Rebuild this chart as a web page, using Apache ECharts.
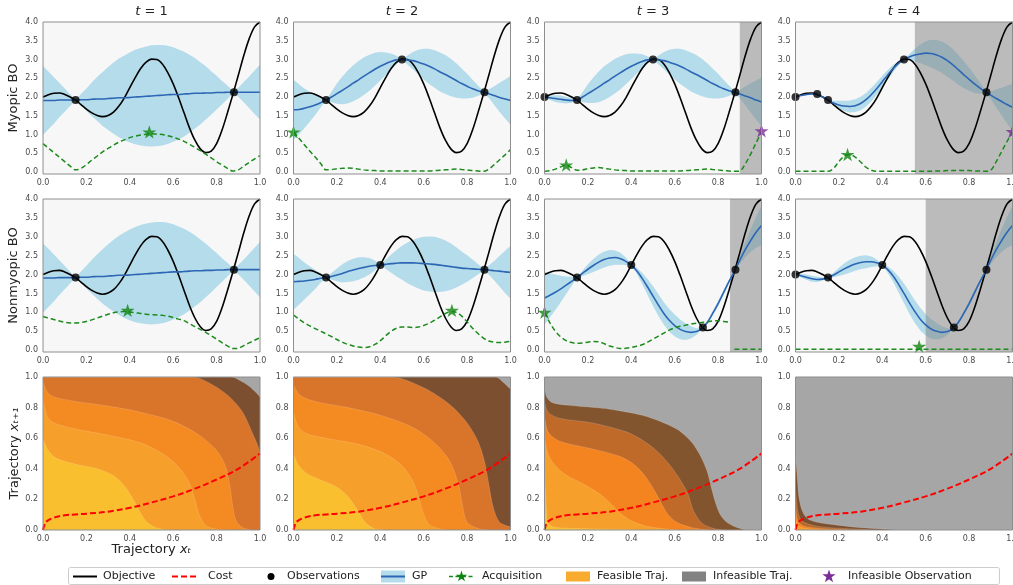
<!DOCTYPE html>
<html>
<head>
<meta charset="utf-8">
<script src="https://cdn.jsdelivr.net/npm/echarts@6.0.0/dist/echarts.min.js"></script>
<style>
html,body{margin:0;padding:0;background:#ffffff;}
#chart{width:1013px;height:585px;}
</style>
</head>
<body>
<div id="chart"></div>
<script>
// ================= DATA =================
const columnTitles = ['1', '2', '3', '4'];
const rowLabels = ['Myopic BO', 'Nonmyopic BO'];
const legendNames = ['Objective', 'Cost', 'Observations', 'GP', 'Acquisition', 'Feasible Traj.', 'Infeasible Traj.', 'Infeasible Observation'];

const xGrid = [0,0.025,0.05,0.075,0.1,0.125,0.15,0.175,0.2,0.225,0.25,0.275,0.3,0.325,0.35,0.375,0.4,0.425,0.45,0.475,0.5,0.525,0.55,0.575,0.6,0.625,0.65,0.675,0.7,0.725,0.75,0.775,0.8,0.825,0.85,0.875,0.9,0.925,0.95,0.975,1];

const objective = [2.00,2.06,2.10,2.11,2.07,2.00,1.92,1.80,1.68,1.58,1.51,1.48,1.51,1.60,1.76,1.98,2.25,2.52,2.76,2.93,3.01,3.00,2.88,2.65,2.35,1.98,1.58,1.18,0.85,0.62,0.52,0.56,0.76,1.12,1.58,2.07,2.58,3.10,3.55,3.87,4.00];

// Myopic row
const meanMyopic1 = [1.91,1.91,1.91,1.92,1.92,1.92,1.92,1.93,1.93,1.94,1.95,1.95,1.96,1.97,1.98,1.98,1.99,2.00,2.01,2.02,2.03,2.04,2.05,2.06,2.07,2.07,2.08,2.09,2.10,2.10,2.11,2.11,2.12,2.12,2.13,2.13,2.13,2.13,2.13,2.13,2.13];
const bandMyopic1 = [0.92,0.77,0.62,0.46,0.31,0.155,0.00,0.15,0.30,0.45,0.59,0.72,0.84,0.95,1.05,1.13,1.20,1.26,1.30,1.33,1.35,1.35,1.34,1.31,1.26,1.20,1.13,1.04,0.94,0.83,0.71,0.58,0.45,0.31,0.18,0.03,0.12,0.27,0.42,0.58,0.73];
const acqMyopic1 = [0.76,0.64,0.52,0.40,0.28,0.16,0.06,0.10,0.20,0.32,0.43,0.54,0.63,0.72,0.80,0.86,0.92,0.96,0.99,1.01,1.02,1.01,1.00,0.97,0.93,0.88,0.82,0.74,0.66,0.57,0.48,0.38,0.28,0.19,0.10,0.03,0.06,0.16,0.26,0.35,0.44];

const meanMyopic2 = [1.66,1.67,1.70,1.74,1.79,1.85,1.92,2.00,2.09,2.18,2.27,2.37,2.46,2.56,2.65,2.74,2.82,2.89,2.95,2.99,3.00,2.99,2.97,2.93,2.88,2.82,2.75,2.67,2.60,2.52,2.44,2.36,2.29,2.22,2.17,2.13,2.09,2.04,1.99,1.95,1.91];
const bandMyopic2 = [0.80,0.67,0.53,0.40,0.27,0.13,0.00,0.14,0.27,0.37,0.44,0.48,0.50,0.50,0.48,0.44,0.38,0.30,0.21,0.11,0.00,0.12,0.23,0.33,0.41,0.47,0.50,0.52,0.52,0.50,0.46,0.40,0.33,0.24,0.14,0.03,0.11,0.25,0.39,0.52,0.65];
const acqMyopic2 = [1.07,0.90,0.73,0.56,0.40,0.23,0.06,0.07,0.09,0.10,0.11,0.10,0.08,0.06,0.05,0.04,0.03,0.03,0.03,0.03,0.03,0.03,0.03,0.03,0.03,0.03,0.04,0.05,0.06,0.07,0.08,0.07,0.06,0.04,0.03,0.02,0.08,0.20,0.33,0.46,0.60];

const meanMyopic3 = [2.00,1.98,1.96,1.94,1.92,1.91,1.92,2.00,2.09,2.18,2.27,2.37,2.46,2.56,2.65,2.74,2.82,2.89,2.95,2.99,3.00,2.99,2.97,2.93,2.88,2.82,2.75,2.67,2.60,2.52,2.44,2.36,2.29,2.22,2.17,2.13,2.08,2.03,1.98,1.92,1.87];
const bandMyopic3 = [0.00,0.06,0.09,0.10,0.09,0.06,0.00,0.13,0.25,0.34,0.41,0.45,0.46,0.46,0.44,0.40,0.34,0.27,0.19,0.10,0.00,0.12,0.23,0.33,0.41,0.47,0.50,0.52,0.52,0.50,0.46,0.40,0.33,0.24,0.14,0.03,0.11,0.25,0.39,0.52,0.65];
const acqMyopic3 = [0.02,0.04,0.08,0.14,0.18,0.12,0.05,0.06,0.09,0.11,0.12,0.10,0.08,0.06,0.05,0.04,0.03,0.03,0.03,0.03,0.03,0.03,0.03,0.03,0.03,0.03,0.04,0.05,0.06,0.07,0.08,0.07,0.06,0.04,0.03,0.02,0.03,0.22,0.48,0.78,1.07];

const meanMyopic4 = [2.00,2.04,2.07,2.08,2.07,2.00,1.92,1.84,1.79,1.76,1.75,1.77,1.83,1.93,2.07,2.23,2.41,2.59,2.76,2.90,3.00,3.07,3.12,3.15,3.17,3.16,3.12,3.06,2.97,2.86,2.73,2.60,2.47,2.35,2.24,2.14,2.05,1.96,1.88,1.80,1.73];
const bandMyopic4 = [0.00,0.01,0.02,0.02,0.00,0.01,0.00,0.06,0.11,0.14,0.16,0.17,0.18,0.18,0.18,0.17,0.16,0.13,0.10,0.05,0.00,0.08,0.17,0.25,0.32,0.37,0.40,0.42,0.43,0.42,0.40,0.36,0.31,0.24,0.15,0.03,0.10,0.24,0.37,0.50,0.63];
const acqMyopic4 = [0.02,0.02,0.02,0.02,0.02,0.02,0.02,0.10,0.28,0.43,0.47,0.40,0.27,0.13,0.05,0.02,0.02,0.02,0.02,0.02,0.02,0.02,0.02,0.02,0.02,0.02,0.03,0.03,0.04,0.04,0.05,0.04,0.04,0.03,0.03,0.02,0.05,0.28,0.55,0.82,1.07];

// Nonmyopic row
const meanNonmyopic1 = meanMyopic1;
const bandNonmyopic1 = bandMyopic1;
const acqNonmyopic1 = [0.89,0.85,0.81,0.77,0.74,0.72,0.72,0.73,0.76,0.80,0.85,0.90,0.95,0.99,1.01,1.02,1.01,0.99,0.97,0.95,0.94,0.93,0.92,0.90,0.86,0.82,0.78,0.70,0.62,0.55,0.47,0.38,0.29,0.20,0.11,0.04,0.05,0.12,0.19,0.26,0.33];

const meanNonmyopic2 = [1.81,1.82,1.83,1.85,1.87,1.90,1.92,1.95,1.99,2.03,2.08,2.12,2.16,2.19,2.22,2.24,2.25,2.27,2.29,2.30,2.31,2.31,2.31,2.30,2.29,2.28,2.27,2.25,2.23,2.21,2.19,2.17,2.16,2.15,2.14,2.13,2.12,2.10,2.09,2.07,2.06];
const bandNonmyopic2 = [0.74,0.62,0.49,0.37,0.25,0.12,0.00,0.09,0.17,0.24,0.28,0.30,0.30,0.27,0.22,0.13,0.00,0.12,0.24,0.35,0.45,0.54,0.61,0.67,0.71,0.73,0.73,0.71,0.67,0.61,0.53,0.44,0.35,0.25,0.14,0.03,0.12,0.26,0.41,0.56,0.70];
const acqNonmyopic2 = [0.93,0.82,0.72,0.64,0.57,0.50,0.43,0.36,0.28,0.21,0.15,0.11,0.08,0.07,0.09,0.15,0.25,0.38,0.50,0.58,0.61,0.61,0.60,0.61,0.65,0.71,0.79,0.88,0.97,1.02,1.00,0.90,0.75,0.58,0.44,0.32,0.24,0.21,0.20,0.21,0.23];

const meanNonmyopic3 = [1.38,1.45,1.53,1.62,1.72,1.82,1.92,2.03,2.14,2.24,2.33,2.40,2.44,2.45,2.42,2.35,2.25,2.10,1.90,1.67,1.43,1.19,0.97,0.79,0.65,0.55,0.49,0.47,0.49,0.57,0.73,0.97,1.23,1.52,1.81,2.08,2.38,2.66,2.90,3.12,3.30];
const bandNonmyopic3 = [0.70,0.58,0.47,0.35,0.23,0.12,0.00,0.07,0.13,0.17,0.20,0.21,0.21,0.19,0.16,0.10,0.00,0.08,0.15,0.21,0.26,0.29,0.30,0.30,0.29,0.26,0.22,0.16,0.09,0.01,0.04,0.06,0.07,0.07,0.05,0.01,0.10,0.20,0.30,0.41,0.52];
const acqNonmyopic3 = [1.00,0.72,0.50,0.35,0.25,0.20,0.18,0.19,0.21,0.23,0.22,0.17,0.11,0.07,0.04,0.05,0.07,0.10,0.14,0.21,0.29,0.37,0.45,0.53,0.59,0.63,0.66,0.69,0.71,0.73,0.75,0.77,0.78,0.76,0.74,null,null,null,null,null,null];
const acqNonmyopic3Infeasible = [null,null,null,null,null,null,null,null,null,null,null,null,null,null,null,null,null,null,null,null,null,null,null,null,null,null,null,null,null,null,null,null,null,null,null,0.02,0.02,0.02,0.02,0.02,0.02];

const meanNonmyopic4 = [2.00,1.97,1.93,1.89,1.87,1.88,1.92,1.99,2.07,2.15,2.22,2.28,2.32,2.34,2.34,2.31,2.25,2.13,1.96,1.74,1.50,1.25,1.02,0.82,0.67,0.56,0.50,0.47,0.49,0.57,0.73,0.97,1.23,1.52,1.81,2.08,2.38,2.66,2.90,3.12,3.30];
const bandNonmyopic4 = [0.00,0.05,0.07,0.08,0.07,0.04,0.00,0.06,0.11,0.15,0.17,0.18,0.18,0.17,0.14,0.09,0.00,0.08,0.15,0.21,0.26,0.29,0.30,0.30,0.28,0.26,0.22,0.16,0.09,0.01,0.04,0.06,0.07,0.07,0.05,0.01,0.10,0.20,0.30,0.41,0.52];
const acqNonmyopic4 = [0.02,0.02,0.02,0.02,0.02,0.02,0.02,0.02,0.02,0.02,0.02,0.02,0.02,0.02,0.02,0.02,0.02,0.02,0.02,0.02,0.02,0.02,0.02,0.02,0.02,0.02,0.02,0.02,0.02,0.02,0.02,0.02,0.02,0.02,0.02,0.02,0.02,0.02,0.02,0.02,0.02];

// Observations
const obsXMyopic1 = [0.15, 0.88];              const obsYMyopic1 = [1.92, 2.13];
const obsXMyopic2 = [0.15, 0.5, 0.88];         const obsYMyopic2 = [1.92, 3.0, 2.13];
const obsXMyopic3 = [0, 0.15, 0.5, 0.88];      const obsYMyopic3 = [2.0, 1.92, 3.0, 2.13];
const obsXMyopic4 = [0, 0.1, 0.15, 0.5, 0.88]; const obsYMyopic4 = [2.0, 2.08, 1.92, 3.0, 2.13];
const obsXNonmyopic1 = [0.15, 0.88];                const obsYNonmyopic1 = [1.92, 2.13];
const obsXNonmyopic2 = [0.15, 0.4, 0.88];           const obsYNonmyopic2 = [1.92, 2.25, 2.13];
const obsXNonmyopic3 = [0.15, 0.4, 0.73, 0.88];     const obsYNonmyopic3 = [1.92, 2.25, 0.6, 2.13];
const obsXNonmyopic4 = [0, 0.15, 0.4, 0.73, 0.88];  const obsYNonmyopic4 = [2.0, 1.92, 2.25, 0.6, 2.13];

// Next query (acquisition maximiser) and infeasible observations
const nextMyopic = [[0.49, 1.07], [0.0, 1.07], [0.1, 0.19], [0.24, 0.47]];
const nextNonmyopic = [[0.39, 1.05], [0.73, 1.05], [0.0, 1.0], [0.57, 0.1]];
const infeasibleObsMyopic = [null, null, [1.0, 1.1], [1.0, 1.08]];
// start of infeasible region (x)
const infeasibleStartMyopic = [null, null, 0.9, 0.55];
const infeasibleStartNonmyopic = [null, null, 0.855, 0.6];

// Cost curve
const costX = [0, 0.01, 0.02, 0.04, 0.07, 0.1, 0.15, 0.2, 0.3, 0.4, 0.5, 0.6, 0.7, 0.8, 0.9, 1.0];
const costY = [0, 0.045, 0.06, 0.075, 0.088, 0.096, 0.102, 0.107, 0.12, 0.145, 0.18, 0.22, 0.27, 0.33, 0.4, 0.5];

// Trajectory contours (outer -> inner); each region filled below its boundary
const trajT1Level0 = [[0,1],[0.87,1],[0.91,0.975],[0.95,0.94],[0.98,0.9],[1,0.87]];
const trajT1Level1 = [[0,1],[0.69,1],[0.78,0.95],[0.86,0.87],[0.92,0.77],[0.96,0.65],[0.99,0.55],[1,0.5]];
const trajT1Level2 = [[0,0.97],[0.02,0.9],[0.05,0.87],[0.15,0.84],[0.3,0.81],[0.45,0.77],[0.6,0.71],[0.72,0.62],[0.8,0.52],[0.84,0.42],[0.86,0.3],[0.875,0.15],[0.89,0.06],[0.92,0.015],[0.96,0]];
const trajT1Level3 = [[0,0.86],[0.02,0.74],[0.05,0.7],[0.15,0.66],[0.3,0.62],[0.45,0.57],[0.55,0.5],[0.62,0.42],[0.67,0.32],[0.7,0.2],[0.72,0.1],[0.75,0.03],[0.8,0.005],[0.85,0]];
const trajT1Level4 = [[0,0.6],[0.02,0.53],[0.06,0.47],[0.15,0.43],[0.25,0.4],[0.33,0.35],[0.38,0.28],[0.42,0.19],[0.45,0.11],[0.48,0.05],[0.52,0.015],[0.58,0]];

const trajT2Level0 = [[0,1],[0.93,1],[0.97,0.96],[1,0.92]];
const trajT2Level1 = [[0,1],[0.45,1],[0.6,0.93],[0.72,0.82],[0.8,0.7],[0.85,0.58],[0.88,0.45],[0.9,0.3],[0.92,0.15],[0.95,0.05],[1,0.02]];
const trajT2Level2 = [[0,0.95],[0.03,0.88],[0.1,0.84],[0.25,0.8],[0.4,0.75],[0.55,0.67],[0.65,0.57],[0.72,0.45],[0.76,0.3],[0.78,0.15],[0.8,0.05],[0.85,0.01],[0.9,0]];
const trajT2Level3 = [[0,0.78],[0.02,0.68],[0.06,0.63],[0.15,0.6],[0.3,0.56],[0.42,0.5],[0.5,0.42],[0.55,0.32],[0.58,0.2],[0.6,0.1],[0.63,0.03],[0.7,0]];
const trajT2Level4 = [[0,0.5],[0.02,0.43],[0.06,0.37],[0.12,0.33],[0.2,0.28],[0.25,0.22],[0.3,0.12],[0.33,0.05],[0.37,0.01],[0.42,0]];

const trajT3Level0 = [[0,0.94],[0.01,0.87],[0.04,0.83],[0.15,0.81],[0.3,0.79],[0.45,0.75],[0.55,0.7],[0.62,0.65],[0.68,0.57],[0.72,0.48],[0.75,0.38],[0.77,0.27],[0.79,0.17],[0.81,0.1],[0.84,0.05],[0.88,0.02],[0.93,0]];
const trajT3Level1 = [[0,0.84],[0.017,0.77],[0.07,0.73],[0.22,0.7],[0.38,0.64],[0.47,0.57],[0.53,0.5],[0.58,0.42],[0.62,0.34],[0.66,0.24],[0.68,0.15],[0.7,0.09],[0.73,0.04],[0.78,0.01],[0.83,0]];
const trajT3Level2 = [[0,0.75],[0.017,0.64],[0.07,0.58],[0.22,0.53],[0.35,0.48],[0.42,0.42],[0.47,0.34],[0.51,0.25],[0.54,0.17],[0.57,0.1],[0.61,0.05],[0.68,0.015],[0.76,0]];
const trajT3Level3 = [[0,0.62],[0.015,0.5],[0.05,0.42],[0.1,0.36],[0.18,0.3],[0.25,0.24],[0.3,0.18],[0.35,0.11],[0.4,0.06],[0.47,0.025],[0.55,0.008],[0.62,0]];
const trajT3Level4 = [[0,0.4],[0.008,0.15],[0.015,0.05],[0.04,0.02],[0.15,0.01],[0.35,0.004],[0.45,0]];

const trajT4Level0 = [[0,0.48],[0.005,0.4],[0.01,0.3],[0.015,0.22],[0.025,0.15],[0.04,0.1],[0.06,0.07],[0.1,0.05],[0.2,0.03],[0.3,0.015],[0.4,0.007],[0.48,0]];
const trajT4Level1 = [[0,0.3],[0.008,0.15],[0.02,0.08],[0.04,0.05],[0.1,0.025],[0.2,0.012],[0.3,0.005],[0.35,0]];
const trajT4Level2 = [[0,0.2],[0.005,0.1],[0.015,0.05],[0.04,0.025],[0.1,0.012],[0.2,0.004],[0.25,0]];
const trajT4Level3 = [[0,0.12],[0.005,0.05],[0.015,0.025],[0.05,0.01],[0.12,0]];

// ================= STYLE / LAYOUT =================
const FONT = 'DejaVu Sans';
const COL_LEFT = [43, 293.5, 544.5, 795.5];
const PW = 217;
const ROW_TOP = [22, 199, 377];
const PH = [152, 153, 153];
const BAND_COLOR = '#b4dcea';
const MEAN_COLOR = '#2c66b4';
const ACQ_COLOR = '#1c8a1c';
const STAR_GREEN = '#0f840f';
const STAR_PURPLE = '#7a2d95';
const INFEAS_OVERLAY = 'rgba(128,128,128,0.5)';
const TRAJ_GRAY = '#a6a6a6';
const STAR_PATH = 'path://M0,-50L11.23,-15.45L47.55,-15.45L18.17,5.9L29.39,40.45L0,19.1L-29.39,40.45L-18.17,5.9L-47.55,-15.45L-11.23,-15.45Z';

const trajPanels = [
  {levels:[trajT1Level0,trajT1Level1,trajT1Level2,trajT1Level3,trajT1Level4], colors:['#7b4f2f','#d9752a','#f48a22','#f6a02b','#f9bf2f']},
  {levels:[trajT2Level0,trajT2Level1,trajT2Level2,trajT2Level3,trajT2Level4], colors:['#7b4f2f','#d9752a','#f48a22','#f6a02b','#f9bf2f']},
  {levels:[trajT3Level0,trajT3Level1,trajT3Level2,trajT3Level3,trajT3Level4], colors:['#82552f','#c06a2a','#f4841f','#f6a02b','#f9bf2f']},
  {levels:[trajT4Level0,trajT4Level1,trajT4Level2,trajT4Level3], colors:['#7b5030','#b8692c','#f4841f','#f6a02b']}
];

const topPanels = [
  [
    {mean:meanMyopic1, band:bandMyopic1, acq:[acqMyopic1], ox:obsXMyopic1, oy:obsYMyopic1, next:nextMyopic[0], bad:infeasibleObsMyopic[0], inf:infeasibleStartMyopic[0]},
    {mean:meanMyopic2, band:bandMyopic2, acq:[acqMyopic2], ox:obsXMyopic2, oy:obsYMyopic2, next:nextMyopic[1], bad:infeasibleObsMyopic[1], inf:infeasibleStartMyopic[1]},
    {mean:meanMyopic3, band:bandMyopic3, acq:[acqMyopic3], ox:obsXMyopic3, oy:obsYMyopic3, next:nextMyopic[2], bad:infeasibleObsMyopic[2], inf:infeasibleStartMyopic[2]},
    {mean:meanMyopic4, band:bandMyopic4, acq:[acqMyopic4], ox:obsXMyopic4, oy:obsYMyopic4, next:nextMyopic[3], bad:infeasibleObsMyopic[3], inf:infeasibleStartMyopic[3]}
  ],
  [
    {mean:meanNonmyopic1, band:bandNonmyopic1, acq:[acqNonmyopic1], ox:obsXNonmyopic1, oy:obsYNonmyopic1, next:nextNonmyopic[0], bad:null, inf:infeasibleStartNonmyopic[0]},
    {mean:meanNonmyopic2, band:bandNonmyopic2, acq:[acqNonmyopic2], ox:obsXNonmyopic2, oy:obsYNonmyopic2, next:nextNonmyopic[1], bad:null, inf:infeasibleStartNonmyopic[1]},
    {mean:meanNonmyopic3, band:bandNonmyopic3, acq:[acqNonmyopic3, acqNonmyopic3Infeasible], ox:obsXNonmyopic3, oy:obsYNonmyopic3, next:nextNonmyopic[2], bad:null, inf:infeasibleStartNonmyopic[2]},
    {mean:meanNonmyopic4, band:bandNonmyopic4, acq:[acqNonmyopic4], ox:obsXNonmyopic4, oy:obsYNonmyopic4, next:nextNonmyopic[3], bad:null, inf:infeasibleStartNonmyopic[3]}
  ]
];

// ================= BUILD =================
const grids = [], xAxes = [], yAxes = [], series = [], graphics = [];
const tickLabel = {fontSize: 8, color: '#4a4a4a', fontFamily: FONT};

function lineData(arr) { return xGrid.map((x, i) => [x, arr[i] == null ? '-' : arr[i]]); }

for (let r = 0; r < 3; r++) {
  for (let c = 0; c < 4; c++) {
    const gi = r * 4 + c;
    grids.push({left: COL_LEFT[c], top: ROW_TOP[r], width: PW, height: PH[r], show: true,
      containLabel: false, outerBoundsMode: 'none',
      backgroundColor: r < 2 ? '#f7f7f7' : TRAJ_GRAY, borderWidth: 0});
    xAxes.push({gridIndex: gi, type: 'value', min: 0, max: 1, interval: 0.2,
      axisLine: {show: false}, axisTick: {show: false}, splitLine: {show: false},
      axisLabel: Object.assign({margin: 5, formatter: v => v.toFixed(1)}, tickLabel)});
    if (r < 2) {
      yAxes.push({gridIndex: gi, type: 'value', min: -0.05, max: 4, interval: 0.05,
        axisLine: {show: false}, axisTick: {show: false}, splitLine: {show: false},
        axisLabel: Object.assign({margin: 5, interval: 0, formatter: v => {
          const k = Math.round(v * 2);
          return (Math.abs(v * 2 - k) < 1e-6 && k >= 0) ? (k / 2).toFixed(1) : '';
        }}, tickLabel)});
    } else {
      yAxes.push({gridIndex: gi, type: 'value', min: 0, max: 1, interval: 0.2,
        axisLine: {show: false}, axisTick: {show: false}, splitLine: {show: false},
        axisLabel: Object.assign({margin: 5, formatter: v => v.toFixed(1)}, tickLabel)});
    }
    graphics.push({type: 'rect', z: 100, silent: true,
      shape: {x: COL_LEFT[c], y: ROW_TOP[r], width: PW, height: PH[r]},
      style: {fill: 'none', stroke: '#8e8e8e', lineWidth: 1}});
  }
}

// top two rows
for (let r = 0; r < 2; r++) {
  for (let c = 0; c < 4; c++) {
    const gi = r * 4 + c;
    const p = topPanels[r][c];
    const pts = xGrid.map((x, i) => [x, p.mean[i] - p.band[i], p.mean[i] + p.band[i]]);
    series.push({type: 'custom', xAxisIndex: gi, yAxisIndex: gi, z: 1, silent: true, clip: true,
      data: pts,
      renderItem: (params, api) => {
        if (params.dataIndex !== 0) return null;
        const up = pts.map(q => api.coord([q[0], q[2]]));
        const lo = pts.map(q => api.coord([q[0], q[1]])).reverse();
        return {type: 'polygon', shape: {points: up.concat(lo)}, style: {fill: BAND_COLOR}};
      }});
    if (p.inf != null) {
      series.push({type: 'custom', xAxisIndex: gi, yAxisIndex: gi, z: 2, silent: true,
        data: [[p.inf, 1]],
        renderItem: (params, api) => {
          const a = api.coord([api.value(0), 4]);
          const b = api.coord([api.value(1), -0.05]);
          return {type: 'rect', shape: {x: a[0], y: a[1], width: b[0] - a[0], height: b[1] - a[1]},
            style: {fill: INFEAS_OVERLAY}};
        }});
    }
    series.push({type: 'line', xAxisIndex: gi, yAxisIndex: gi, z: 3, silent: true,
      data: lineData(objective), smooth: 0.35, showSymbol: false,
      lineStyle: {color: '#000000', width: 1.6}});
    series.push({type: 'line', xAxisIndex: gi, yAxisIndex: gi, z: 3, silent: true,
      data: lineData(p.mean), smooth: 0.35, showSymbol: false,
      lineStyle: {color: MEAN_COLOR, width: 1.6}});
    p.acq.forEach(a => {
      series.push({type: 'line', xAxisIndex: gi, yAxisIndex: gi, z: 3, silent: true,
        data: lineData(a), smooth: 0.35, showSymbol: false, connectNulls: false,
        lineStyle: {color: ACQ_COLOR, width: 1.5, type: [5, 3]}});
    });
    series.push({type: 'scatter', xAxisIndex: gi, yAxisIndex: gi, z: 4, silent: true, clip: false,
      data: p.ox.map((x, i) => [x, p.oy[i]]), symbol: 'circle', symbolSize: 8,
      itemStyle: {color: '#000000'}});
    series.push({type: 'scatter', xAxisIndex: gi, yAxisIndex: gi, z: 5, silent: true, clip: false,
      data: [p.next], symbol: STAR_PATH, symbolSize: 14, symbolKeepAspect: true,
      itemStyle: {color: STAR_GREEN}});
    if (p.bad) {
      series.push({type: 'scatter', xAxisIndex: gi, yAxisIndex: gi, z: 5, silent: true, clip: false,
        data: [p.bad], symbol: STAR_PATH, symbolSize: 14, symbolKeepAspect: true,
        itemStyle: {color: STAR_PURPLE}});
    }
  }
}

// trajectory row
for (let c = 0; c < 4; c++) {
  const gi = 8 + c;
  const tp = trajPanels[c];
  tp.levels.forEach((lvl, k) => {
    series.push({type: 'line', xAxisIndex: gi, yAxisIndex: gi, z: 2, silent: true,
      data: lvl, smooth: 0.3, showSymbol: false,
      lineStyle: {width: 0.6, color: 'rgba(255,255,255,0.25)'},
      areaStyle: {color: tp.colors[k], opacity: 1, origin: 'start'}});
  });
  series.push({type: 'line', xAxisIndex: gi, yAxisIndex: gi, z: 4, silent: true,
    data: costX.map((x, i) => [x, costY[i]]), smooth: 0.4, showSymbol: false,
    lineStyle: {color: '#ff0000', width: 2, type: [6, 3]}});
}

// titles
for (let c = 0; c < 4; c++) {
  graphics.push({type: 'text', z: 100, silent: true,
    x: COL_LEFT[c] + PW / 2, y: 12,
    style: {text: '{i|t}{n| = ' + columnTitles[c] + '}', align: 'center', verticalAlign: 'middle',
      textAlign: 'center', textVerticalAlign: 'middle',
      rich: {i: {fontSize: 13, fontFamily: FONT, fontStyle: 'italic', fill: '#222'},
             n: {fontSize: 13, fontFamily: FONT, fill: '#222'}}}});
}
// row labels
[rowLabels[0], rowLabels[1]].forEach((lab, r) => {
  graphics.push({type: 'text', z: 100, silent: true, rotation: Math.PI / 2,
    x: 14, y: ROW_TOP[r] + PH[r] / 2,
    style: {text: lab, fontSize: 13, fontFamily: FONT, fill: '#222',
      align: 'center', verticalAlign: 'middle', textAlign: 'center', textVerticalAlign: 'middle'}});
});
graphics.push({type: 'text', z: 100, silent: true, rotation: Math.PI / 2,
  x: 15, y: ROW_TOP[2] + PH[2] / 2,
  style: {text: '{n|Trajectory }{i|x\u209C\u208A\u2081}', align: 'center', verticalAlign: 'middle',
    textAlign: 'center', textVerticalAlign: 'middle',
    rich: {n: {fontSize: 13, fontFamily: FONT, fill: '#222'},
           i: {fontSize: 13, fontFamily: FONT, fontStyle: 'italic', fill: '#222'}}}});
graphics.push({type: 'text', z: 100, silent: true,
  x: COL_LEFT[0] + PW / 2, y: 550,
  style: {text: '{n|Trajectory }{i|x\u209C}', align: 'center', verticalAlign: 'middle',
    textAlign: 'center', textVerticalAlign: 'middle',
    rich: {n: {fontSize: 13, fontFamily: FONT, fill: '#222'},
           i: {fontSize: 13, fontFamily: FONT, fontStyle: 'italic', fill: '#222'}}}});

// legend
function starPoints(cx, cy, R) {
  const pts = [];
  for (let k = 0; k < 10; k++) {
    const rad = k % 2 === 0 ? R : R * 0.382;
    const ang = -Math.PI / 2 + k * Math.PI / 5;
    pts.push([cx + rad * Math.cos(ang), cy + rad * Math.sin(ang)]);
  }
  return pts;
}
const LY = 576.5;
const legendText = (x, t) => ({type: 'text', z: 101, silent: true, x: x, y: LY,
  style: {text: t, fontSize: 11, fontFamily: FONT, fill: '#222', align: 'left', verticalAlign: 'middle',
    textAlign: 'left', textVerticalAlign: 'middle'}});
graphics.push(
  {type: 'rect', z: 100, silent: true, shape: {x: 68.5, y: 567.5, width: 931, height: 17, r: 2},
    style: {fill: '#ffffff', stroke: '#cccccc', lineWidth: 1}},
  {type: 'line', z: 101, silent: true, shape: {x1: 73, y1: LY, x2: 97, y2: LY}, style: {stroke: '#000', lineWidth: 2}},
  legendText(103, legendNames[0]),
  {type: 'line', z: 101, silent: true, shape: {x1: 172, y1: LY, x2: 196, y2: LY}, style: {stroke: '#ff0000', lineWidth: 2, lineDash: [6, 3]}},
  legendText(208, legendNames[1]),
  {type: 'circle', z: 101, silent: true, shape: {cx: 271, cy: LY, r: 3.5}, style: {fill: '#000'}},
  legendText(287, legendNames[2]),
  {type: 'rect', z: 101, silent: true, shape: {x: 381, y: LY - 6, width: 24, height: 12}, style: {fill: BAND_COLOR}},
  {type: 'line', z: 102, silent: true, shape: {x1: 381, y1: LY, x2: 405, y2: LY}, style: {stroke: MEAN_COLOR, lineWidth: 2}},
  legendText(412, legendNames[3]),
  {type: 'line', z: 101, silent: true, shape: {x1: 449, y1: LY, x2: 474, y2: LY}, style: {stroke: ACQ_COLOR, lineWidth: 1.5, lineDash: [4, 2.5]}},
  {type: 'polygon', z: 102, silent: true, shape: {points: starPoints(461.5, LY, 6)}, style: {fill: STAR_GREEN}},
  legendText(482, legendNames[4]),
  {type: 'rect', z: 101, silent: true, shape: {x: 566, y: LY - 5, width: 24, height: 10}, style: {fill: '#f8ab2e'}},
  legendText(597, legendNames[5]),
  {type: 'rect', z: 101, silent: true, shape: {x: 682, y: LY - 5, width: 24, height: 10}, style: {fill: '#828282'}},
  legendText(713, legendNames[6]),
  {type: 'polygon', z: 101, silent: true, shape: {points: starPoints(829, LY, 7)}, style: {fill: STAR_PURPLE}},
  legendText(848, legendNames[7])
);

const chart = echarts.init(document.getElementById('chart'), null, {renderer: 'canvas', width: 1013, height: 585});
chart.setOption({
  animation: false,
  backgroundColor: '#ffffff',
  textStyle: {fontFamily: FONT},
  grid: grids, xAxis: xAxes, yAxis: yAxes, series: series, graphic: graphics
});
</script>
</body>
</html>
